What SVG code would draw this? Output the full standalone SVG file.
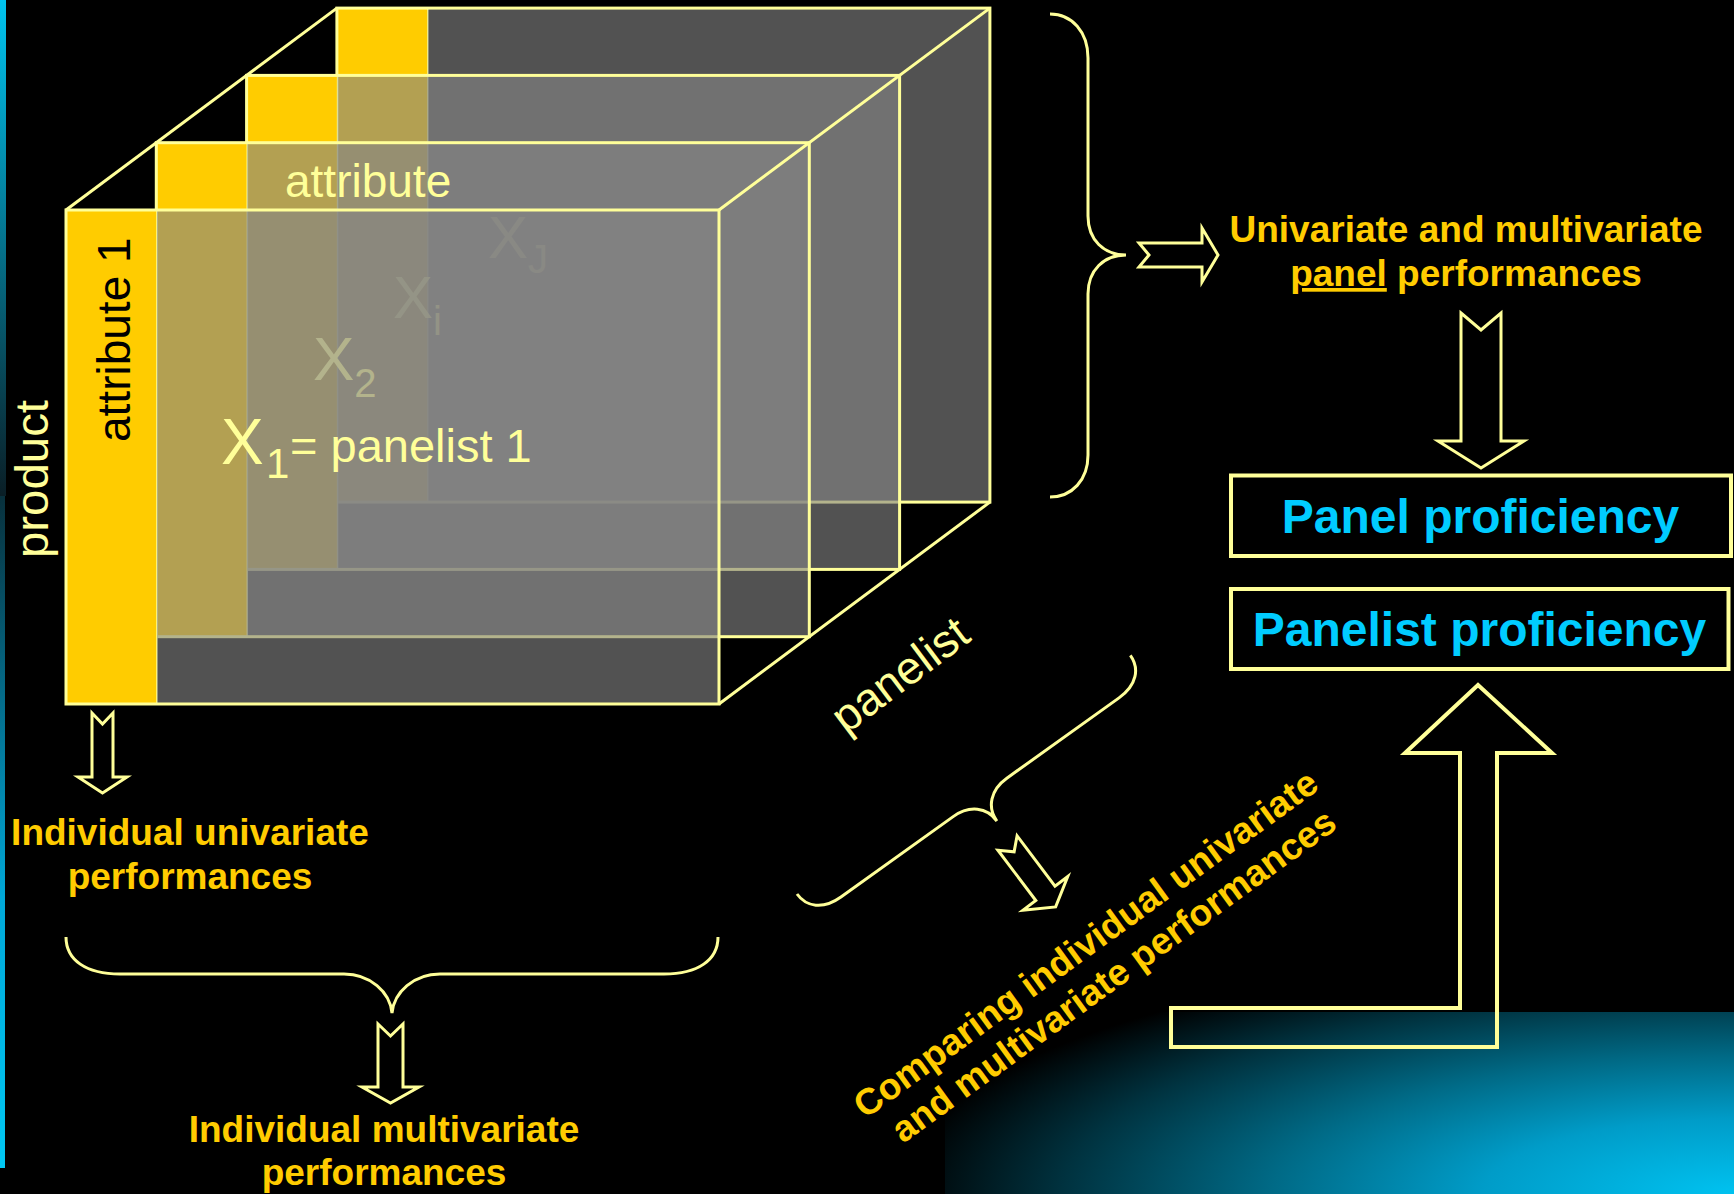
<svg xmlns="http://www.w3.org/2000/svg" width="1734" height="1194" viewBox="0 0 1734 1194">
<defs>
<style>
.ln{fill:none;stroke:#FFFF99;stroke-width:3}
.strip{fill:#FFCC00;stroke:#FFFF99;stroke-width:1.5}
.body{fill:#858585;fill-opacity:0.62}
.lt{font-family:"Liberation Sans",Arial,sans-serif;fill:#FFFF99}
.bt{font-family:"Liberation Sans",Arial,sans-serif;font-weight:bold;fill:#FFCC00;font-size:37px}
.ct{font-family:"Liberation Sans",Arial,sans-serif;font-weight:bold;fill:#00CCFF;font-size:48px}
.arr{fill:none;stroke:#FFFF99;stroke-width:3;stroke-linejoin:miter}
.box{fill:none;stroke:#FFFF99;stroke-width:4}
</style>
<radialGradient id="glow" gradientUnits="userSpaceOnUse" cx="0" cy="0" r="1" gradientTransform="translate(1734,1194) scale(840,250)">
<stop offset="0" stop-color="#00C2F0"/>
<stop offset="0.3" stop-color="#009CC8"/>
<stop offset="0.55" stop-color="#006A86"/>
<stop offset="0.8" stop-color="#00323F"/>
<stop offset="1" stop-color="#000000"/>
</radialGradient>
<linearGradient id="edgeTop" x1="0" y1="0" x2="0" y2="1">
<stop offset="0" stop-color="#00C4F0"/>
<stop offset="1" stop-color="#0A1E26"/>
</linearGradient>
<linearGradient id="edgeBot" x1="0" y1="0" x2="0" y2="1">
<stop offset="0" stop-color="#08303C"/>
<stop offset="0.6" stop-color="#00A8D8"/>
<stop offset="1" stop-color="#00C8F4"/>
</linearGradient>
</defs>
<rect width="1734" height="1194" fill="#000"/>
<rect x="945" y="1012" width="789" height="182" fill="url(#glow)"/>
<rect x="0" y="0" width="6" height="496" fill="url(#edgeTop)"/>
<rect x="0" y="496" width="5" height="672" fill="url(#edgeBot)"/>

<g id="cube">
<g id="layer-4" transform="translate(270.9,-201.9)">
<rect class="strip" x="66" y="210" width="91" height="494"/>
<rect class="body" x="157" y="210" width="562" height="494"/>
<rect class="ln" x="66" y="210" width="653" height="494"/>
</g>
<text class="lt" font-size="60" x="488" y="258" fill-opacity="0.8">X<tspan font-size="40" y="273">J</tspan></text>
<g id="layer-3" transform="translate(180.6,-134.6)">
<rect class="strip" x="66" y="210" width="91" height="494"/>
<rect class="body" x="157" y="210" width="562" height="494"/>
<rect class="ln" x="66" y="210" width="653" height="494"/>
</g>
<text class="lt" font-size="60" x="393" y="318" fill-opacity="0.85">X<tspan font-size="40" y="335">i</tspan></text>
<g id="layer-2" transform="translate(90.3,-67.3)">
<rect class="strip" x="66" y="210" width="91" height="494"/>
<rect class="body" x="157" y="210" width="562" height="494"/>
<rect class="ln" x="66" y="210" width="653" height="494"/>
</g>
<text class="lt" font-size="62" x="313" y="380">X<tspan font-size="40" y="397">2</tspan></text>
<g id="layer-1">
<rect class="strip" x="66" y="210" width="91" height="494"/>
<rect class="body" x="157" y="210" width="562" height="494"/>
<rect class="ln" x="66" y="210" width="653" height="494"/>
</g>
<text class="lt" font-size="64" x="221" y="464">X</text>
<text class="lt" font-size="42" x="266" y="478">1</text>
<text class="lt" font-size="47" x="290" y="462">= panelist 1</text>
<text class="lt" font-size="46" x="285" y="197">attribute</text>
<text font-family="Liberation Sans, Arial, sans-serif" font-size="46" fill="#000" transform="translate(130,442) rotate(-90)">attribute 1</text>
<g id="edges">
<line class="ln" x1="66" y1="210" x2="336.9" y2="8.1"/>
<line class="ln" x1="719" y1="210" x2="989.9" y2="8.1"/>
<line class="ln" x1="719" y1="704" x2="989.9" y2="502.1"/>
</g>
</g>

<text class="lt" font-size="46" textLength="158" lengthAdjust="spacingAndGlyphs" transform="translate(48,558) rotate(-90)">product</text>
<text class="lt" font-size="46" transform="translate(846,735) rotate(-37)">panelist</text>

<g id="connectors">
<path class="arr" d="M1050,14 C1072,14 1088,32 1088,58 L1088,216 C1088,240 1104,255 1126,255 C1104,255 1088,270 1088,294 L1088,455 C1088,480 1072,497 1050,497"/>
<path class="arr" d="M66,937 C66,960 86,974 120,974 L344,974 C370,974 390,992 392,1013 C394,992 414,974 440,974 L664,974 C698,974 718,960 718,937"/>
<path class="arr" transform="translate(797,894) rotate(-35.6)" d="M0,0 C0,16 12,28 34,28 L172,28 C192,28 205,40 205,57 C205,40 218,28 238,28 L376,28 C398,28 410,16 410,0"/>
<polygon class="arr" points="1139,243 1202,243 1202,228 1218,255 1202,282 1202,267 1139,267 1149,255"/>
<polygon class="arr" points="1461,313 1481,330 1501,313 1501,441 1524,441 1481,468 1438,441 1461,441"/>
<polygon class="arr" points="92,713 102.5,724 113,713 113,777 127,777 102.5,793 78,777 92,777"/>
<polygon class="arr" points="378,1024 390.5,1036 403,1024 403,1087 419,1087 390.5,1103 362,1087 378,1087"/>
<polygon class="arr" transform="translate(1007.5,843) rotate(-37)" points="-12,0 0,11 12,0 12,63 28,63 0,80 -28,63 -12,63"/>
<polygon class="arr" style="stroke-width:4" points="1478,685 1552,753 1497,753 1497,1047 1171,1047 1171,1008 1460,1008 1460,753 1405,753"/>
</g>

<g id="panel-text">
<text class="bt" x="1466" y="242" text-anchor="middle">Univariate and multivariate</text>
<text class="bt" x="1466" y="286" text-anchor="middle"><tspan text-decoration="underline">panel</tspan> performances</text>
</g>
<g id="panel-proficiency">
<rect class="box" x="1231" y="475.5" width="500" height="80.5"/>
<text class="ct" x="1480.5" y="533" text-anchor="middle">Panel proficiency</text>
</g>
<g id="panelist-proficiency">
<rect class="box" x="1231" y="589" width="497.5" height="80"/>
<text class="ct" x="1479.5" y="646" text-anchor="middle">Panelist proficiency</text>
</g>
<g id="individual-univariate">
<text class="bt" x="190" y="845" text-anchor="middle">Individual univariate</text>
<text class="bt" x="190" y="889" text-anchor="middle">performances</text>
</g>
<g id="individual-multivariate">
<text class="bt" x="384" y="1142" text-anchor="middle">Individual multivariate</text>
<text class="bt" x="384" y="1185" text-anchor="middle">performances</text>
</g>
<g id="comparing" transform="translate(1093,954) rotate(-36)">
<text class="bt" x="0" y="0" text-anchor="middle">Comparing individual univariate</text>
<text class="bt" x="4" y="42" text-anchor="middle">and multivariate performances</text>
</g>
</svg>
